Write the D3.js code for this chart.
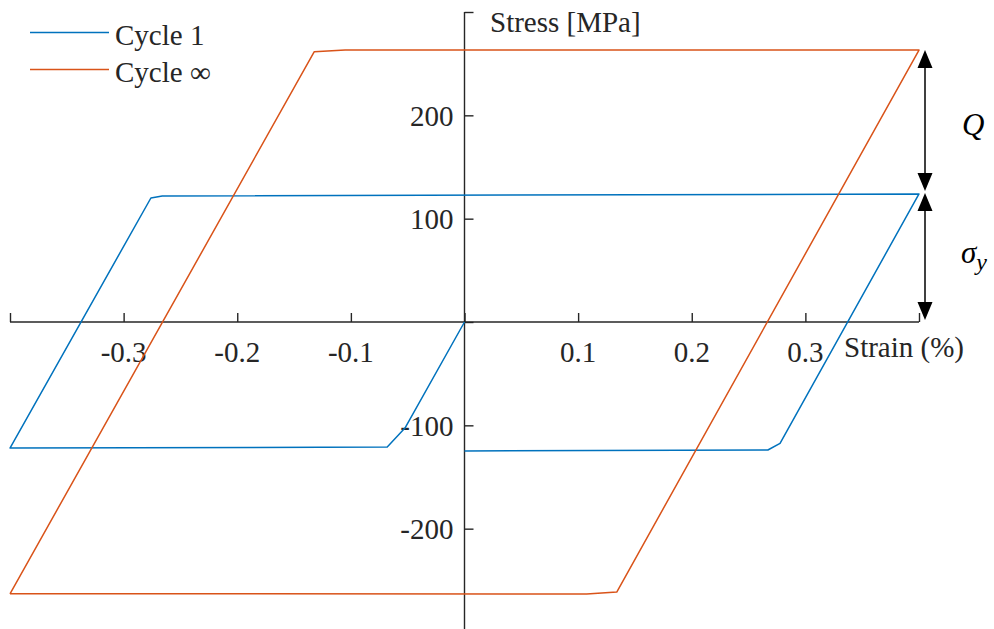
<!DOCTYPE html>
<html><head><meta charset="utf-8">
<script src="https://cdn.jsdelivr.net/npm/d3@7"></script>
<style>body{margin:0;background:#fff}svg{display:block}</style>
</head><body>
<script>
// ---- data ----
const cycle1Strain = [0, -0.0524, -0.068, -0.4, -0.276, -0.266, 0.4, 0.2777, 0.267, 0];
const cycle1Stress = [0, -102.6, -121, -122, 120, 121.9, 123.9, -117.4, -123.9, -124.8];
const cycleInfStrain = [-0.4, -0.1322, -0.105, 0.4, 0.134, 0.1075, -0.4];
const cycleInfStress = [-263, 261.6, 263.2, 263.2, -261.3, -263.2, -263];
const xTicks = [-0.4, -0.3, -0.2, -0.1, 0, 0.1, 0.2, 0.3, 0.4];
const xTickLabels = ["", "-0.3", "-0.2", "-0.1", "", "0.1", "0.2", "0.3", ""];
const yTicks = [300, 200, 100, 0, -100, -200, -300];
const yTickLabels = ["", "200", "100", "", "-100", "-200", ""];
const seriesNames = ["Cycle 1", "Cycle \u221E"];
const seriesColors = ["#0072BD", "#D95319"];

const W = 994, H = 629;
const svg = d3.select("body").append("svg").attr("width", W).attr("height", H);
const x = d3.scaleLinear().domain([-0.4, 0.4]).range([10, 919]);
const y = d3.scaleLinear().domain([-300, 300]).range([632, 12]);
const font = "'Liberation Serif','Times New Roman',serif";
const axisColor = "#262626";

// axes
const xAxis = d3.axisTop(x).tickValues(xTicks).tickSize(9).tickFormat("");
const gx = svg.append("g").attr("transform", `translate(0,${y(0)})`).call(xAxis);
const yAxis = d3.axisRight(y).tickValues(yTicks).tickSize(9).tickFormat("");
const gy = svg.append("g").attr("transform", `translate(${x(0)},0)`).call(yAxis);
[gx, gy].forEach(g => {
  g.selectAll("path.domain").attr("stroke", axisColor).attr("stroke-width", 1.4);
  g.selectAll(".tick line").attr("stroke", axisColor).attr("stroke-width", 1.4);
});
gx.select("path.domain").attr("d", `M${x(-0.4)},0H${x(0.4)}`);
gy.select("path.domain").attr("d", `M0,${y(300)}V${y(-300)}`);

// tick labels
svg.append("g").selectAll("text").data(xTicks.map((v, i) => [v, xTickLabels[i]]).filter(d => d[1]))
  .join("text").attr("x", d => x(d[0])).attr("y", y(0) + 40)
  .attr("text-anchor", "middle").attr("font-family", font).attr("font-size", 29)
  .attr("fill", axisColor).text(d => d[1]);
svg.append("g").selectAll("text").data(yTicks.map((v, i) => [v, yTickLabels[i]]).filter(d => d[1]))
  .join("text").attr("x", x(0) - 11).attr("y", d => y(d[0]) + 10.5)
  .attr("text-anchor", "end").attr("font-family", font).attr("font-size", 29)
  .attr("fill", axisColor).text(d => d[1]);

// axis titles
svg.append("text").attr("x", 490).attr("y", 32).attr("font-family", font).attr("font-size", 29)
  .attr("fill", axisColor).text("Stress [MPa]");
svg.append("text").attr("x", 844).attr("y", 357).attr("font-family", font).attr("font-size", 29)
  .attr("fill", axisColor).text("Strain (%)");

// series
const line = d3.line().x(d => x(d[0])).y(d => y(d[1]));
const series = [
  d3.zip(cycle1Strain, cycle1Stress),
  d3.zip(cycleInfStrain, cycleInfStress)
];
series.forEach((s, i) => {
  svg.append("path").datum(s).attr("d", line).attr("fill", "none")
    .attr("stroke", seriesColors[i]).attr("stroke-width", 1.5).attr("stroke-linejoin", "round");
});

// legend
seriesNames.forEach((n, i) => {
  const ly = 32.5 + i * 37;
  svg.append("line").attr("x1", 30).attr("x2", 109).attr("y1", ly).attr("y2", ly)
    .attr("stroke", seriesColors[i]).attr("stroke-width", 1.5);
  svg.append("text").attr("x", 115).attr("y", ly + 12.5).attr("font-family", font)
    .attr("font-size", 29).attr("fill", axisColor).text(n);
});

// annotation arrows (Q and sigma_y)
const ax = 925;
const topInf = d3.max(cycleInfStress), top1 = d3.max(cycle1Stress);
function arrowHead(tipY, dir) { // dir -1 up, +1 down
  const b = tipY - dir * 18;
  svg.append("path").attr("d", `M${ax},${tipY}L${ax - 7.5},${b}L${ax + 7.5},${b}Z`).attr("fill", "#000");
}
function dbl(y1, y2) {
  svg.append("line").attr("x1", ax).attr("x2", ax).attr("y1", y1 + 4).attr("y2", y2 - 4)
    .attr("stroke", "#000").attr("stroke-width", 1.5);
  arrowHead(y1, -1); arrowHead(y2, 1);
}
dbl(y(topInf), y(top1) - 3);
dbl(y(top1) - 1, y(0) - 2);
svg.append("text").attr("x", 962).attr("y", 135).attr("font-family", font).attr("font-style", "italic")
  .attr("font-size", 31).attr("fill", "#000").text("Q");
const sg = svg.append("text").attr("x", 961).attr("y", 263).attr("font-family", font)
  .attr("font-style", "italic").attr("font-size", 31).attr("fill", "#000");
sg.append("tspan").text("\u03C3");
sg.append("tspan").attr("dy", 7).attr("font-size", 24).text("y");
</script>
</body></html>
